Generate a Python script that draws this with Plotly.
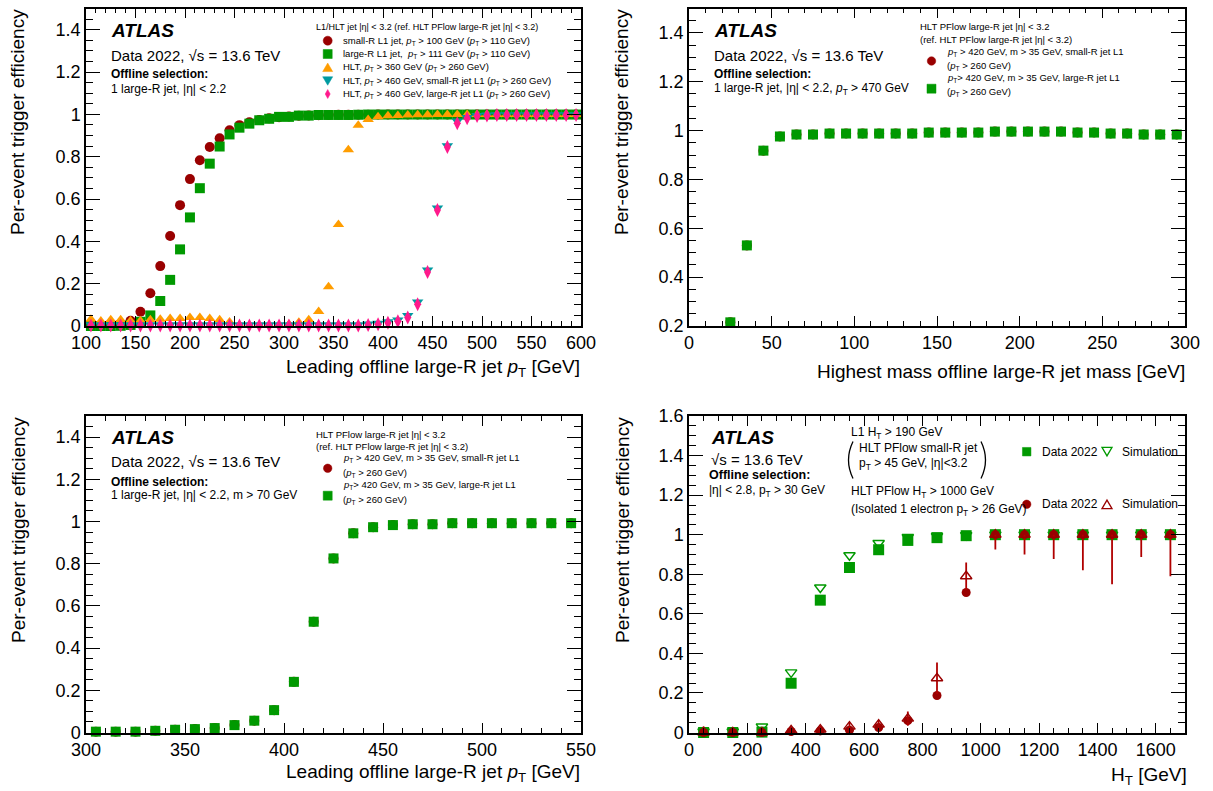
import plotly.graph_objects as go

W, H = 1213, 791
FONT = "Liberation Sans, Arial, Helvetica, sans-serif"

# ---------------- Panel 1 (top-left): leading large-R jet pT ----------------
p1_pt = [105, 115, 125, 135, 145, 155, 165, 175, 185, 195,
         205, 215, 225, 235, 245, 255, 265, 275, 285, 295,
         305, 315, 325, 335, 345, 355, 365, 375, 385, 395,
         405, 415, 425, 435, 445, 455, 465, 475, 485, 495,
         505, 515, 525, 535, 545, 555, 565, 575, 585, 595]
p1_smallR_L1 = [0.002, 0.003, 0.005, 0.010, 0.025, 0.067, 0.155, 0.283, 0.425, 0.571,
                0.694, 0.783, 0.846, 0.887, 0.925, 0.949, 0.963, 0.973, 0.981, 0.986,
                0.990, 0.993, 0.995, 0.996, 0.997, 0.998, 0.998, 0.998, 0.998, 0.999,
                0.999, 0.999, 0.999, 0.999, 0.999, 0.999, 0.999, 0.999, 0.999, 0.999,
                0.999, 0.999, 0.999, 0.999, 0.999, 0.999, 0.999, 0.999, 0.999, 0.999]
p1_largeR_L1 = [0.000, 0.000, 0.000, 0.001, 0.005, 0.020, 0.050, 0.118, 0.218, 0.362,
                0.513, 0.651, 0.767, 0.848, 0.905, 0.937, 0.956, 0.972, 0.979, 0.988,
                0.988, 0.994, 0.994, 0.997, 0.997, 0.997, 0.997, 0.998, 0.999, 0.999,
                0.999, 0.999, 0.999, 0.999, 0.999, 0.999, 0.999, 0.999, 0.999, 0.999,
                0.999, 0.999, 0.999, 0.999, 0.999, 0.999, 0.999, 0.999, 0.999, 0.999]
p1_HLT360 = [0.032, 0.024, 0.029, 0.029, 0.025, 0.025, 0.030, 0.032, 0.035, 0.035,
             0.040, 0.040, 0.036, 0.029, 0.019, 0.003, 0.002, 0.002, 0.002, 0.003,
             0.008, 0.018, 0.030, 0.068, 0.186, 0.479, 0.833, 0.948, 0.976, 0.989,
             0.993, 0.995, 0.997, 0.998, 0.998, 0.999, 0.999, 0.999, 0.999, 0.999,
             0.999, 0.999, 0.999, 0.999, 0.999, 0.999, 0.999, 0.999, 0.999, 0.999]
p1_HLT460_smallR = [0.006, 0.006, 0.006, 0.006, 0.006, 0.006, 0.006, 0.006, 0.006, 0.006,
                    0.006, 0.006, 0.006, 0.006, 0.006, 0.006, 0.006, 0.006, 0.006, 0.006,
                    0.006, 0.006, 0.006, 0.006, 0.006, 0.006, 0.006, 0.006, 0.009, 0.013,
                    0.020, 0.028, 0.050, 0.113, 0.265, 0.558, 0.852, 0.968, 0.985, 0.994,
                    0.997, 0.998, 0.998, 0.998, 0.998, 0.998, 0.998, 0.998, 0.998, 0.998]
p1_HLT460_largeR = [0.002, 0.002, 0.002, 0.002, 0.002, 0.002, 0.002, 0.002, 0.002, 0.002,
                    0.002, 0.002, 0.002, 0.002, 0.002, 0.002, 0.002, 0.002, 0.002, 0.002,
                    0.002, 0.002, 0.002, 0.002, 0.002, 0.002, 0.002, 0.002, 0.005, 0.008,
                    0.015, 0.022, 0.040, 0.103, 0.255, 0.548, 0.846, 0.958, 0.981, 0.992,
                    0.995, 0.997, 0.997, 0.997, 0.997, 0.997, 0.997, 0.997, 0.997, 0.997]

# ---------------- Panel 2 (top-right): highest-mass large-R jet mass ----------------
p2_mass = [25, 35, 45, 55, 65, 75, 85, 95, 105, 115, 125, 135, 145, 155,
           165, 175, 185, 195, 205, 215, 225, 235, 245, 255, 265, 275, 285, 295]
p2_smallR = [0.215, 0.530, 0.918, 0.976, 0.984, 0.984, 0.988, 0.988, 0.988, 0.988, 0.988, 0.988, 0.992, 0.992,
             0.992, 0.992, 0.996, 0.996, 0.996, 0.996, 0.996, 0.992, 0.992, 0.988, 0.988, 0.984, 0.984, 0.984]
p2_largeR = [0.215, 0.530, 0.918, 0.976, 0.984, 0.984, 0.988, 0.988, 0.988, 0.988, 0.988, 0.988, 0.992, 0.992,
             0.992, 0.992, 0.996, 0.996, 0.996, 0.996, 0.996, 0.992, 0.992, 0.988, 0.988, 0.984, 0.984, 0.984]

# ---------------- Panel 3 (bottom-left): leading large-R jet pT, m > 70 GeV ----------------
p3_pt = [305, 315, 325, 335, 345, 355, 365, 375, 385, 395, 405, 415, 425,
         435, 445, 455, 465, 475, 485, 495, 505, 515, 525, 535, 545]
p3_smallR = [0.004, 0.004, 0.004, 0.008, 0.013, 0.016, 0.021, 0.035, 0.056, 0.106, 0.240, 0.525, 0.825,
             0.944, 0.973, 0.983, 0.987, 0.987, 0.992, 0.992, 0.992, 0.992, 0.992, 0.992, 0.992]
p3_largeR = [0.004, 0.004, 0.004, 0.008, 0.013, 0.016, 0.021, 0.035, 0.056, 0.106, 0.240, 0.525, 0.825,
             0.944, 0.973, 0.983, 0.987, 0.987, 0.992, 0.992, 0.992, 0.992, 0.992, 0.992, 0.992]

# ---------------- Panel 4 (bottom-right): HT ----------------
p4_ht = [50, 150, 250, 350, 450, 550, 650, 750, 850, 950, 1050, 1150, 1250, 1350, 1450, 1550, 1650]
p4_data_jet = [0.000, 0.000, 0.002, 0.249, 0.669, 0.834, 0.924, 0.971, 0.985, 0.995, 1, 1, 1, 1, 1, 1, 1]
p4_sim_jet = [0.005, 0.005, 0.030, 0.304, 0.733, 0.896, 0.958, 0.988, 0.993, 0.998, 1, 1, 1, 1, 1, 1, 1]
p4_data_ele = [0.000, 0.000, 0.000, 0.005, 0.008, 0.012, 0.025, 0.060, 0.187, 0.708, 1, 1, 1, 1, 1, 1, 1]
p4_sim_ele = [0.000, 0.000, 0.000, 0.010, 0.015, 0.030, 0.040, 0.070, 0.274, 0.790, 1, 1, 1, 1, 1, 1, 1]
p4_sim_ele_up = [0.030, 0.010, 0.010, 0.012, 0.018, 0.020, 0.022, 0.036, 0.080, 0.070, 0, 0, 0, 0, 0, 0, 0]
p4_sim_ele_dn = [0.000, 0.000, 0.000, 0.010, 0.015, 0.020, 0.022, 0.036, 0.080, 0.070,
                 0.075, 0.100, 0.123, 0.180, 0.250, 0.113, 0.210]

RED = "#990000"
GREEN = "#009900"
ORANGE = "#ff9d00"
TEAL = "#009aa0"
PINK = "#ff1a8c"
ERRRED = "#b00000"

fig = go.Figure()


def sc(x, y, ax, symbol, color, size, name, open_=False, **kw):
    marker = dict(symbol=symbol, size=size, color=color)
    if open_:
        marker["line"] = dict(color=color, width=1.4)
    else:
        marker["line"] = dict(width=0)
    fig.add_trace(go.Scatter(x=x, y=y, mode="markers", marker=marker, name=name,
                             xaxis="x" + ax, yaxis="y" + ax, cliponaxis=False,
                             showlegend=False, **kw))


# Panel 1
sc(p1_pt, p1_smallR_L1, "", "circle", RED, 10, "small-R L1 jet")
sc(p1_pt, p1_largeR_L1, "", "square", GREEN, 10, "large-R L1 jet")
sc(p1_pt, p1_HLT360, "", "triangle-up", ORANGE, 10, "HLT pT>360")
sc(p1_pt, p1_HLT460_smallR, "", "triangle-down", TEAL, 10, "HLT pT>460 small-R L1")
sc(p1_pt, p1_HLT460_largeR, "", "diamond-tall", PINK, 10, "HLT pT>460 large-R L1")
# Panel 2
sc(p2_mass, p2_smallR, "2", "circle", RED, 10, "small-R jet L1")
sc(p2_mass, p2_largeR, "2", "square", GREEN, 10, "large-R jet L1")
# Panel 3
sc(p3_pt, p3_smallR, "3", "circle", RED, 10, "small-R jet L1")
sc(p3_pt, p3_largeR, "3", "square", GREEN, 10, "large-R jet L1")
# Panel 4
sc(p4_ht, p4_data_jet, "4", "square", GREEN, 11, "Data 2022 (jet)")
sc(p4_ht, p4_sim_jet, "4", "triangle-down-open", GREEN, 10, "Simulation (jet)", open_=True)
sc(p4_ht, p4_data_ele, "4", "circle", RED, 9, "Data 2022 (electron)")
sc(p4_ht, p4_sim_ele, "4", "triangle-up-open", RED, 10, "Simulation (electron)", open_=True,
   error_y=dict(type="data", symmetric=False, array=p4_sim_ele_up, arrayminus=p4_sim_ele_dn,
                color=ERRRED, thickness=1.8, width=0))

# ---------------- axes ----------------
def px(x):
    return x / W


def py(y):
    return 1 - y / H


XL = [px(86), px(581)]
XR = [px(689), px(1185)]
YT = [py(326), py(8.5)]
YB = [py(732.5), py(416)]


def xax(domain, rng, dtick, mdtick, anchor):
    return dict(domain=domain, range=rng, tick0=0, dtick=dtick, anchor=anchor,
                automargin=False,
                showline=True, linecolor="black", linewidth=1.5, mirror="allticks",
                ticks="inside", ticklen=10, tickwidth=1.2, tickcolor="black",
                minor=dict(ticks="inside", ticklen=5, tickwidth=1, tickcolor="black",
                           dtick=mdtick, tick0=0, showgrid=False),
                showgrid=False, zeroline=False,
                tickfont=dict(family=FONT, size=18, color="black"))


def yax(domain, rng, anchor):
    return dict(domain=domain, range=rng, tick0=0, dtick=0.2, anchor=anchor,
                automargin=False,
                showline=True, linecolor="black", linewidth=1.5, mirror="allticks",
                ticks="inside", ticklen=14, tickwidth=1.2, tickcolor="black",
                minor=dict(ticks="inside", ticklen=7, tickwidth=1, tickcolor="black",
                           dtick=0.05, tick0=0, showgrid=False),
                showgrid=False, zeroline=False,
                tickfont=dict(family=FONT, size=18, color="black"))


layout = dict(
    template="none",
    width=W, height=H, margin=dict(l=0, r=0, t=0, b=0, pad=0), autosize=False,
    paper_bgcolor="white", plot_bgcolor="white", showlegend=False,
    font=dict(family=FONT, size=12, color="black"),
    xaxis=xax(XL, [100, 600], 50, 10, "y"),
    yaxis=yax(YT, [0, 1.5], "x"),
    xaxis2=xax(XR, [0, 300], 50, 10, "y2"),
    yaxis2=yax(YT, [0.2, 1.5], "x2"),
    xaxis3=xax(XL, [300, 550], 50, 10, "y3"),
    yaxis3=yax(YB, [0, 1.5], "x3"),
    xaxis4=xax(XR, [0, 1700], 200, 50, "y4"),
    yaxis4=yax(YB, [0, 1.6], "x4"),
)
fig.update_layout(**layout)

anns = []


def T(x, y, text, size, xa="left", ya="middle", angle=0, color="black"):
    anns.append(dict(x=px(x), y=py(y), xref="paper", yref="paper", text=text, showarrow=False,
                     xanchor=xa, yanchor=ya, textangle=angle, borderpad=0,
                     font=dict(family=FONT, size=size, color=color)))


PT = "<i>p</i><sub>T</sub>"
ETA = "|η|"
LS = 9.5  # legend text size

# axis titles
for xt in (18, 622):
    for yt in (8, 416):
        T(xt, yt, "Per-event trigger efficiency", 19, xa="center", ya="top", angle=-90)
T(581, 368, "Leading offline large-R jet " + PT + " [GeV]", 19, xa="right")
T(1186, 371, "Highest mass offline large-R jet mass [GeV]", 19, xa="right")
T(581, 773, "Leading offline large-R jet " + PT + " [GeV]", 19, xa="right")
T(1188, 776, "H<sub>T</sub> [GeV]", 19, xa="right")

ATLAS = "<b><i>ATLAS</i></b>"
SQRTS = "Data 2022, √s = 13.6 TeV"
OFF = "<b>Offline selection:</b>"

# Panel 1 texts
T(110, 31, ATLAS, 19)
T(110, 55.5, SQRTS, 15)
T(110, 74, OFF, 12)
T(110, 89, "1 large-R jet, " + ETA + " &lt; 2.2", 12)
T(315, 27, "L1/HLT jet " + ETA + " &lt; 3.2 (ref. HLT PFlow large-R jet " + ETA + " &lt; 3.2)", 9)
p1_leg = [
    "small-R L1 jet, " + PT + " &gt; 100 GeV (" + PT + " &gt; 110 GeV)",
    "large-R L1 jet,  " + PT + " &gt; 111 GeV (" + PT + " &gt; 110 GeV)",
    "HLT, " + PT + " &gt; 360 GeV (" + PT + " &gt; 260 GeV)",
    "HLT, " + PT + " &gt; 460 GeV, small-R jet L1 (" + PT + " &gt; 260 GeV)",
    "HLT, " + PT + " &gt; 460 GeV, large-R jet L1 (" + PT + " &gt; 260 GeV)",
]
p1_rows = [40.7, 54, 67.3, 81, 94]
for t, yy in zip(p1_leg, p1_rows):
    T(341.7, yy, t, LS)

# Panel 2 texts
T(713, 31, ATLAS, 19)
T(713, 55.5, SQRTS, 15)
T(713, 74, OFF, 12)
T(713, 89, "1 large-R jet, " + ETA + " &lt; 2.2, " + PT + " &gt; 470 GeV", 12)
T(919, 26.7, "HLT PFlow large-R jet " + ETA + " &lt; 3.2", LS)
T(919, 40, "(ref. HLT PFlow large-R jet " + ETA + " &lt; 3.2)", LS)
T(946, 51.7, PT + " &gt; 420 GeV, m &gt; 35 GeV, small-R jet L1", LS)
T(946, 66, "(" + PT + " &gt; 260 GeV)", LS)
T(946, 78.3, PT + "&gt; 420 GeV, m &gt; 35 GeV, large-R jet L1", LS)
T(946, 91.7, "(" + PT + " &gt; 260 GeV)", LS)

# Panel 3 texts
T(110, 437, ATLAS, 19)
T(110, 461, SQRTS, 15)
T(110, 481.7, OFF, 12)
T(110, 495, "1 large-R jet, " + ETA + " &lt; 2.2, m &gt; 70 GeV", 12)
T(315, 434.3, "HLT PFlow large-R jet " + ETA + " &lt; 3.2", LS)
T(315, 446, "(ref. HLT PFlow large-R jet " + ETA + " &lt; 3.2)", LS)
T(341.7, 457.7, PT + " &gt; 420 GeV, m &gt; 35 GeV, small-R jet L1", LS)
T(341.7, 472.7, "(" + PT + " &gt; 260 GeV)", LS)
T(341.7, 485, PT + "&gt; 420 GeV, m &gt; 35 GeV, large-R jet L1", LS)
T(341.7, 500, "(" + PT + " &gt; 260 GeV)", LS)

# Panel 4 texts
T(710, 437, ATLAS, 19)
T(710, 459.3, "√s = 13.6 TeV", 15)
T(708, 475, OFF, 12.5)
T(708, 491, ETA + " &lt; 2.8, p<sub>T</sub> &gt; 30 GeV", 12)
T(850, 432.7, "L1 H<sub>T</sub> &gt; 190 GeV", 12)
T(858, 448, "HLT PFlow small-R jet", 12)
T(858, 464, "p<sub>T</sub> &gt; 45 GeV, " + ETA + "&lt;3.2", 12)
T(850, 491.7, "HLT PFlow H<sub>T</sub> &gt; 1000 GeV", 12)
T(850, 510, "(Isolated 1 electron p<sub>T</sub> &gt; 26 GeV)", 12)
T(1041, 451.7, "Data 2022", 12)
T(1121, 451.7, "Simulation", 12)
T(1041, 504.3, "Data 2022", 12)
T(1121, 504.3, "Simulation", 12)

fig.update_layout(annotations=anns)

# ---------------- legend keys & decorations (paper-space shapes) ----------------
shapes = []


def key_circle(cx, cy, d, color):
    shapes.append(dict(type="circle", xref="paper", yref="paper",
                       x0=px(cx - d / 2), x1=px(cx + d / 2), y0=py(cy + d / 2), y1=py(cy - d / 2),
                       fillcolor=color, line=dict(color=color, width=0.5)))


def key_poly(pts, color, fill=True, lw=0.5):
    path = "M " + " L ".join("%.5f,%.5f" % (px(a), py(b)) for a, b in pts) + " Z"
    shapes.append(dict(type="path", xref="paper", yref="paper", path=path,
                       fillcolor=color if fill else "rgba(0,0,0,0)",
                       line=dict(color=color, width=lw)))


def key_square(cx, cy, s, color):
    key_poly([(cx - s / 2, cy - s / 2), (cx + s / 2, cy - s / 2), (cx + s / 2, cy + s / 2), (cx - s / 2, cy + s / 2)], color)


def key_tri_up(cx, cy, w, h, color, fill=True, lw=0.5):
    key_poly([(cx, cy - h / 2), (cx + w / 2, cy + h / 2), (cx - w / 2, cy + h / 2)], color, fill, lw)


def key_tri_down(cx, cy, w, h, color, fill=True, lw=0.5):
    key_poly([(cx, cy + h / 2), (cx + w / 2, cy - h / 2), (cx - w / 2, cy - h / 2)], color, fill, lw)


def key_diamond(cx, cy, w, h, color):
    key_poly([(cx, cy - h / 2), (cx + w / 2, cy), (cx, cy + h / 2), (cx - w / 2, cy)], color)


# panel 1 keys
key_circle(327.7, 40.7, 9, RED)
key_square(327.7, 54, 9, GREEN)
key_tri_up(327.7, 67.3, 10, 8.5, ORANGE)
key_tri_down(327.7, 81, 10, 8.5, TEAL)
key_diamond(327.7, 94, 5, 9, PINK)
# panel 2 keys
key_circle(931.5, 61, 8.5, RED)
key_square(931.5, 88.7, 9, GREEN)
# panel 3 keys
key_circle(327.7, 468.3, 8.5, RED)
key_square(327.7, 495.7, 9, GREEN)
# panel 4 keys
key_square(1026.7, 451.7, 8.5, GREEN)
key_tri_down(1107, 451.7, 10, 8.5, GREEN, fill=False, lw=1.3)
key_circle(1026.7, 504.3, 8.5, RED)
key_tri_up(1107, 504.3, 10, 8.5, RED, fill=False, lw=1.3)


# big parentheses
def paren(x0, y0, x1, y1, xc):
    ym = (y0 + y1) / 2
    shapes.append(dict(type="path", xref="paper", yref="paper",
                       path="M %.5f,%.5f Q %.5f,%.5f %.5f,%.5f" % (px(x0), py(y0), px(xc), py(ym), px(x1), py(y1)),
                       line=dict(color="black", width=1.3)))


paren(853, 441.5, 853, 478.5, 844)
paren(981, 441.5, 981, 478.5, 990)

fig.update_layout(shapes=shapes)

fig.write_html("out.html",
               config={"displayModeBar": False},
               post_script="document.body.style.margin='0px';document.body.style.overflow='hidden';")
